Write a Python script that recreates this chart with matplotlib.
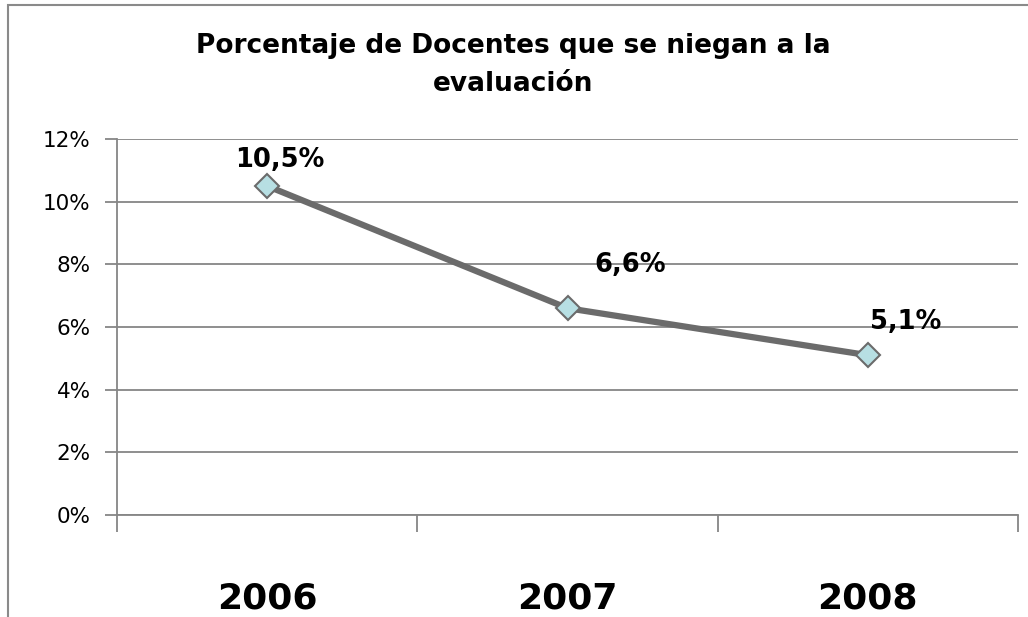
import matplotlib.pyplot as plt
from matplotlib.patches import Rectangle
from matplotlib.ticker import FixedLocator

# Data
years = ['2006', '2007', '2008']
porcentajes = [10.5, 6.6, 5.1]
etiquetas = ['10,5%', '6,6%', '5,1%']
label_offsets = [(9, 19), (45, 31), (27, 24)]  # in points
y_ticks = [0, 2, 4, 6, 8, 10, 12]

plt.rcParams['font.family'] = ['DejaVu Sans']

fig = plt.figure(figsize=(10.28, 6.17), dpi=100)
ax = fig.add_axes([117 / 1028, 1 - 515 / 617, (1018 - 117) / 1028, (515 - 139) / 617])

grid_color = '#868686'

# Outer chart border (cut off on the right and bottom like the source)
fig.patches.append(Rectangle((8 / 1028, -0.1), 1.2, (612 / 617) + 0.1,
                             transform=fig.transFigure, fill=False,
                             edgecolor='#8a8a8a', linewidth=1.5))

x = list(range(len(years)))
ax.plot(x, porcentajes, color='#6b6b6b', linewidth=4.5, marker='D',
        markersize=12, markerfacecolor='#b7dfe3', markeredgecolor='#6b6b6b',
        markeredgewidth=1.5, zorder=3)

for xi, val, txt, off in zip(x, porcentajes, etiquetas, label_offsets):
    ax.annotate(txt, (xi, val), xytext=off, textcoords='offset points',
                ha='center', va='center', fontsize=18.5, fontweight='bold')

ax.set_xlim(-0.5, 2.5)
ax.set_ylim(0, 12)

ax.set_yticks(y_ticks)
ax.set_yticklabels([f'{t}%' for t in y_ticks], fontsize=15.5)
ax.yaxis.grid(True, color=grid_color, linewidth=1.3)
ax.set_axisbelow(True)

ax.set_xticks(x)
ax.set_xticklabels(years, fontsize=26, fontweight='bold')
ax.xaxis.set_minor_locator(FixedLocator([-0.5, 0.5, 1.5, 2.5]))
ax.tick_params(axis='x', which='major', length=0, pad=48)
ax.tick_params(axis='x', which='minor', length=12, width=1.3, color=grid_color, direction='out')
ax.tick_params(axis='y', length=9, width=1.3, color=grid_color, direction='out', pad=10)

for side in ['top', 'right']:
    ax.spines[side].set_visible(False)
for side in ['left', 'bottom']:
    ax.spines[side].set_color(grid_color)
    ax.spines[side].set_linewidth(1.3)

fig.text(0.499, 0.895, 'Porcentaje de Docentes que se niegan a la\nevaluación',
         ha='center', va='center', fontsize=19, fontweight='bold', linespacing=1.6)

fig.savefig('out.png', dpi=100)
